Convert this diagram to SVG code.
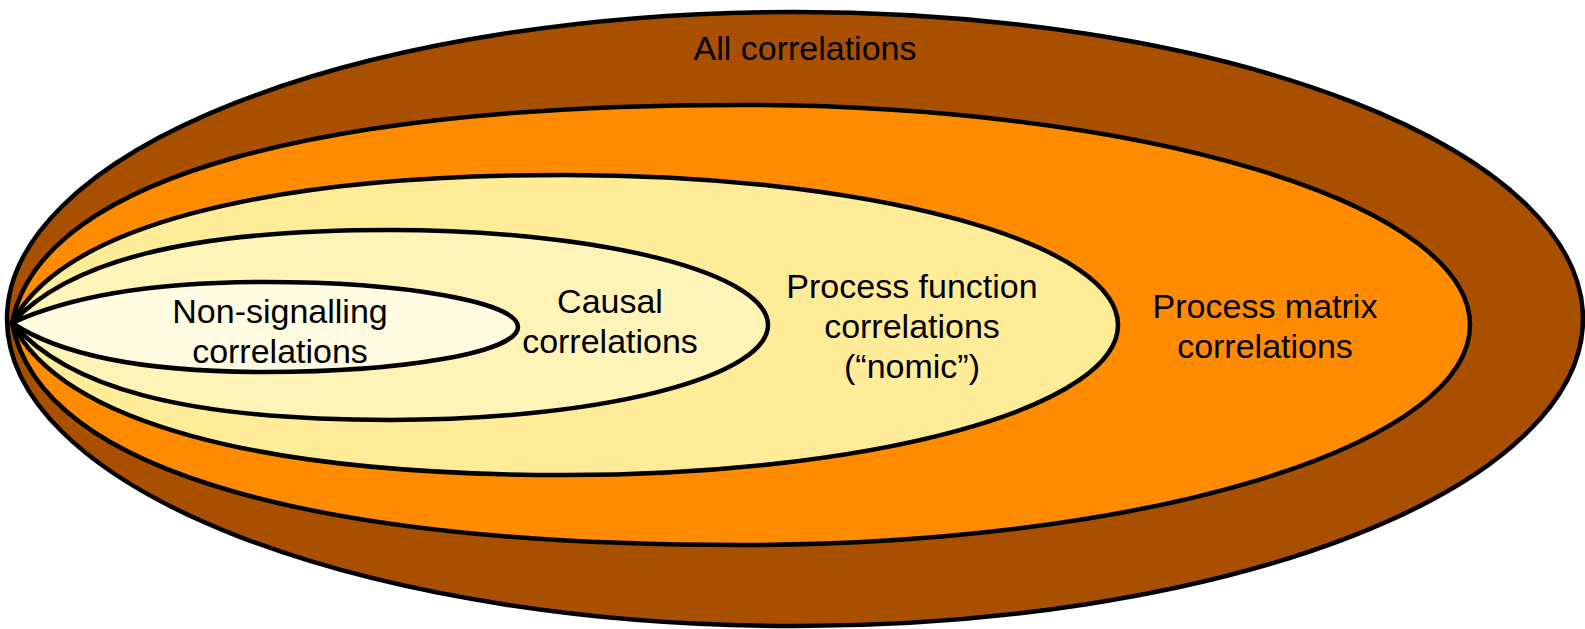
<svg xmlns="http://www.w3.org/2000/svg" width="1585" height="629" viewBox="0 0 1585 629">
<style>
.set{stroke:#000;stroke-width:4.5;stroke-linejoin:round}
.lbl{font-family:"Liberation Sans",Arial,sans-serif;font-size:34px;fill:#000;text-anchor:middle}
</style>
<rect width="1585" height="629" fill="#fff"/>
<g id="all">
<ellipse class="set" cx="795" cy="319" rx="788" ry="307" fill="#A85000"/>
<text class="lbl" x="805" y="60">All correlations</text>
</g>
<g id="process-matrix">
<path class="set" fill="#FF8C00" d="M12,323 C42,171 339,105 741,105 A729,220 0 0 1 1470,325 A729,220 0 0 1 741,545 C339,545 42,479 12,323 Z"/>
<text class="lbl" x="1265" y="318">Process matrix</text>
<text class="lbl" x="1265" y="358">correlations</text>
</g>
<g id="process-function">
<path class="set" fill="#FFEC98" d="M12,323 C62,227.5 260,175 565,175 A553,150 0 0 1 1118,325 A553,150 0 0 1 565,475 C260,475 62,422.5 12,323 Z"/>
<text class="lbl" x="912" y="298">Process function</text>
<text class="lbl" x="912" y="338">correlations</text>
<text class="lbl" x="912" y="378">(“nomic”)</text>
</g>
<g id="causal">
<path class="set" fill="#FFF4B8" d="M12,323 C67,263.25 181,230 390,230 A378,95 0 0 1 768,325 A378,95 0 0 1 390,420 C181,420 67,386.75 12,323 Z"/>
<text class="lbl" x="610" y="313">Causal</text>
<text class="lbl" x="610" y="353">correlations</text>
</g>
<g id="non-signalling">
<path class="set" fill="#FFFCE2" d="M12,323 C52,304.5 125,282 265,282 A253,45 0 0 1 518,327 A253,45 0 0 1 265,372 C125,372 52,349.5 12,323 Z"/>
<text class="lbl" x="280" y="323">Non-signalling</text>
<text class="lbl" x="280" y="363">correlations</text>
</g>
</svg>
